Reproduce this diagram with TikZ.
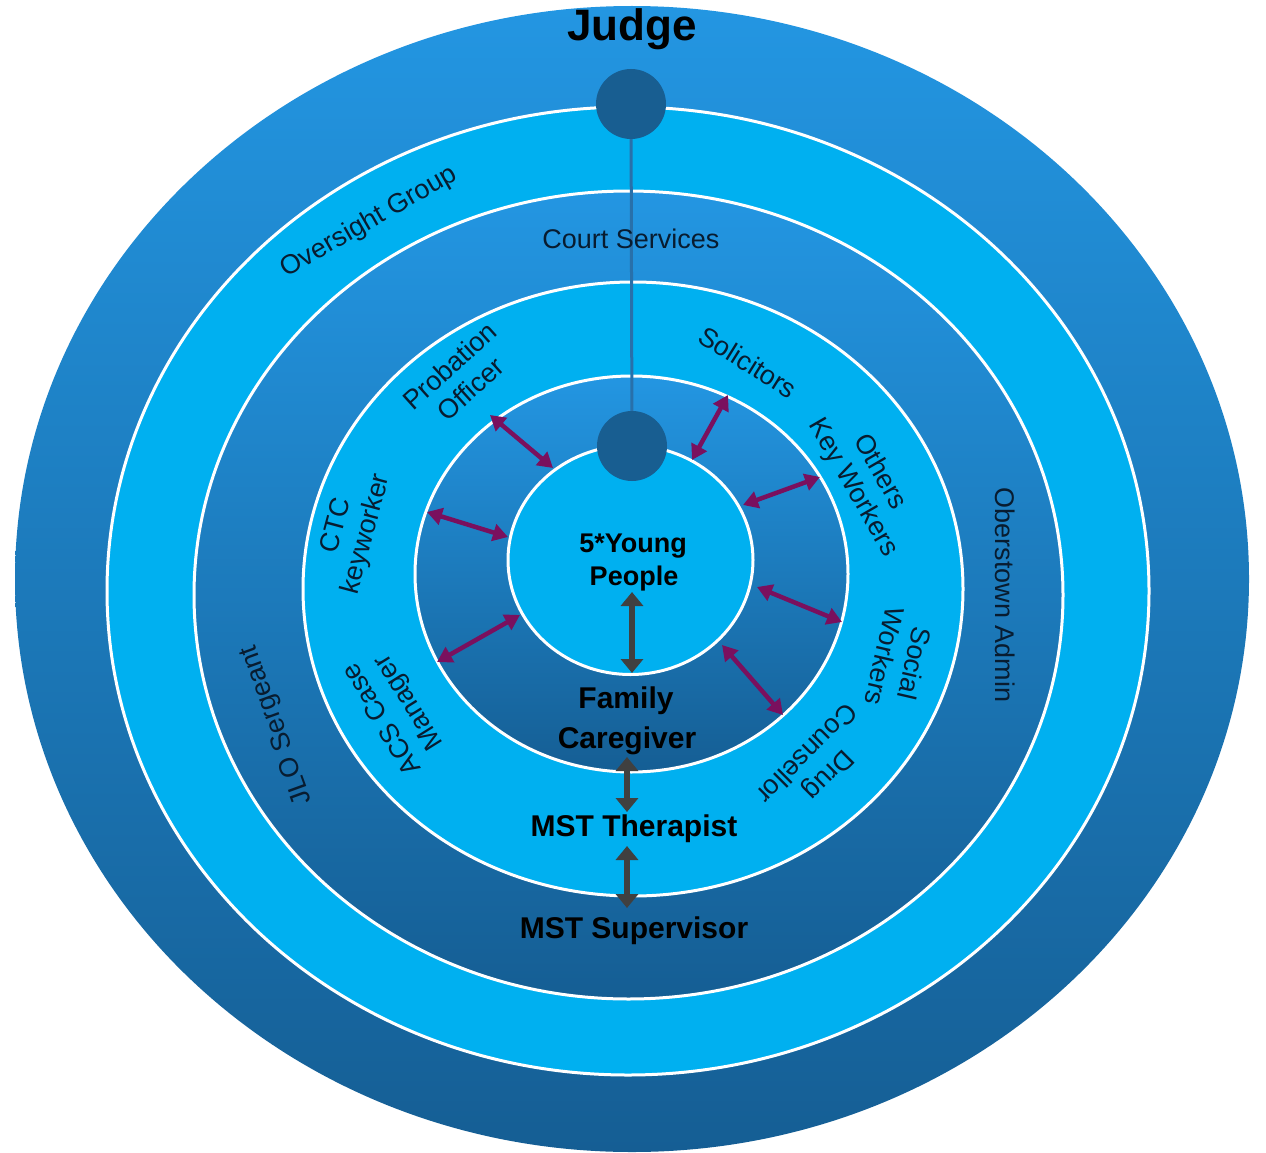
\documentclass[tikz,border=0pt]{standalone}
\usepackage{fontspec}
\setmainfont{Liberation Sans}
\usetikzlibrary{arrows.meta}
\definecolor{cyanfill}{RGB}{0,176,240}
\definecolor{darktop}{RGB}{35,150,226}
\definecolor{darkbot}{RGB}{21,94,148}
\definecolor{discfill}{RGB}{24,94,145}
\definecolor{linkcol}{RGB}{40,112,170}
\definecolor{purp}{RGB}{122,16,94}
\definecolor{greyarr}{RGB}{64,64,64}
\definecolor{labelcol}{RGB}{8,28,48}
\begin{document}
\begin{tikzpicture}[x=1pt,y=-1pt,
  darkband/.style={draw=white,line width=3pt,top color=darktop,bottom color=darkbot},
  lightband/.style={draw=white,line width=3pt,fill=cyanfill},
  lbl/.style={text=labelcol,font=\fontsize{27}{31}\selectfont,align=center,inner sep=0pt},
  boldlbl/.style={text=black,font=\fontsize{30}{34}\selectfont\bfseries,inner sep=0pt,anchor=base},
  disc/.style={circle,fill=discfill,minimum size=70pt,inner sep=0pt},
  link/.style={draw=linkcol,line width=3pt},
  parrow/.style={draw=purp,line width=4.5pt,{Triangle[length=15pt,width=17pt]}-{Triangle[length=15pt,width=17pt]}},
  garrow/.style={draw=greyarr,line width=6pt,{Triangle[length=14pt,width=22pt]}-{Triangle[length=14pt,width=22pt]}}
]
\useasboundingbox (0,0) rectangle (1266,1153);
% rings
\path[top color=darktop,bottom color=darkbot] (632,579) ellipse [x radius=617,y radius=573];
\path[lightband] (628,591) ellipse [x radius=521,y radius=484];
\path[darkband] (628.5,595) ellipse [x radius=434.5,y radius=404];
\path[lightband] (633,589) ellipse [x radius=330,y radius=307];
\path[darkband] (631.5,574) ellipse [x radius=216.5,y radius=198];
\path[lightband] (630.5,560) ellipse [x radius=122.5,y radius=114.5];
% discs and link
\node[disc] (judgedot) at (631,104) {};
\node[disc] (hubdot) at (632,446) {};
\draw[link] (judgedot) -- (hubdot);
% title
\node[font=\fontsize{44}{48}\selectfont\bfseries,anchor=base,inner sep=0pt] (judge) at (632,41) {Judge};
% ring labels
\node[lbl,rotate=30] (oversight) at (369,222) {Oversight Group};
\node[lbl] (court) at (631,239) {Court Services};
\node[lbl,rotate=-90] (oberstown) at (1005,595) {Oberstown Admin};
\node[lbl,rotate=110] (jlo) at (277,725) {JLO Sergeant};
\node[lbl,rotate=42] (probation) at (460,377) {Probation\\Officer};
\node[lbl,rotate=-32] (solicitors) at (748,362) {Solicitors};
\node[lbl,rotate=-60] (others) at (866,480) {Others\\Key Workers};
\node[lbl,rotate=-103] (social) at (900,660) {Social\\Workers};
\node[lbl,rotate=-135] (drug) at (818,765) {Drug\\Counsellor};
\node[lbl,rotate=122] (acs) at (396,710) {ACS Case\\Manager};
\node[lbl,rotate=75] (ctc) at (352,530) {CTC\\keyworker};
% centre labels
\node[boldlbl,font=\fontsize{27}{31}\selectfont\bfseries] (young) at (633,552) {5*Young};
\node[boldlbl,font=\fontsize{27}{31}\selectfont\bfseries] (people) at (634,585) {People};
\node[boldlbl] (family) at (626,708) {Family};
\node[boldlbl] (caregiver) at (627,748) {Caregiver};
\node[boldlbl] (therapist) at (634,836) {MST Therapist};
\node[boldlbl] (supervisor) at (634,938) {MST Supervisor};
% arrow end points
\coordinate (p1a) at (490,415); \coordinate (p1b) at (553,468);
\coordinate (p2a) at (728,395); \coordinate (p2b) at (692,460);
\coordinate (p3a) at (820,477); \coordinate (p3b) at (743,505);
\coordinate (p4a) at (427,512); \coordinate (p4b) at (508,537);
\coordinate (p5a) at (437,662); \coordinate (p5b) at (520,615);
\coordinate (p6a) at (757,587); \coordinate (p6b) at (842,622);
\coordinate (p7a) at (722,645); \coordinate (p7b) at (783,715);
\coordinate (g1a) at (632,592); \coordinate (g1b) at (632,673);
\coordinate (g2a) at (627,757); \coordinate (g2b) at (627,812);
\coordinate (g3a) at (627,846); \coordinate (g3b) at (627,908);
\draw[parrow] (p1a) -- (p1b);
\draw[parrow] (p2a) -- (p2b);
\draw[parrow] (p3a) -- (p3b);
\draw[parrow] (p4a) -- (p4b);
\draw[parrow] (p5a) -- (p5b);
\draw[parrow] (p6a) -- (p6b);
\draw[parrow] (p7a) -- (p7b);
\draw[garrow] (g1a) -- (g1b);
\draw[garrow] (g2a) -- (g2b);
\draw[garrow] (g3a) -- (g3b);
\end{tikzpicture}
\end{document}
